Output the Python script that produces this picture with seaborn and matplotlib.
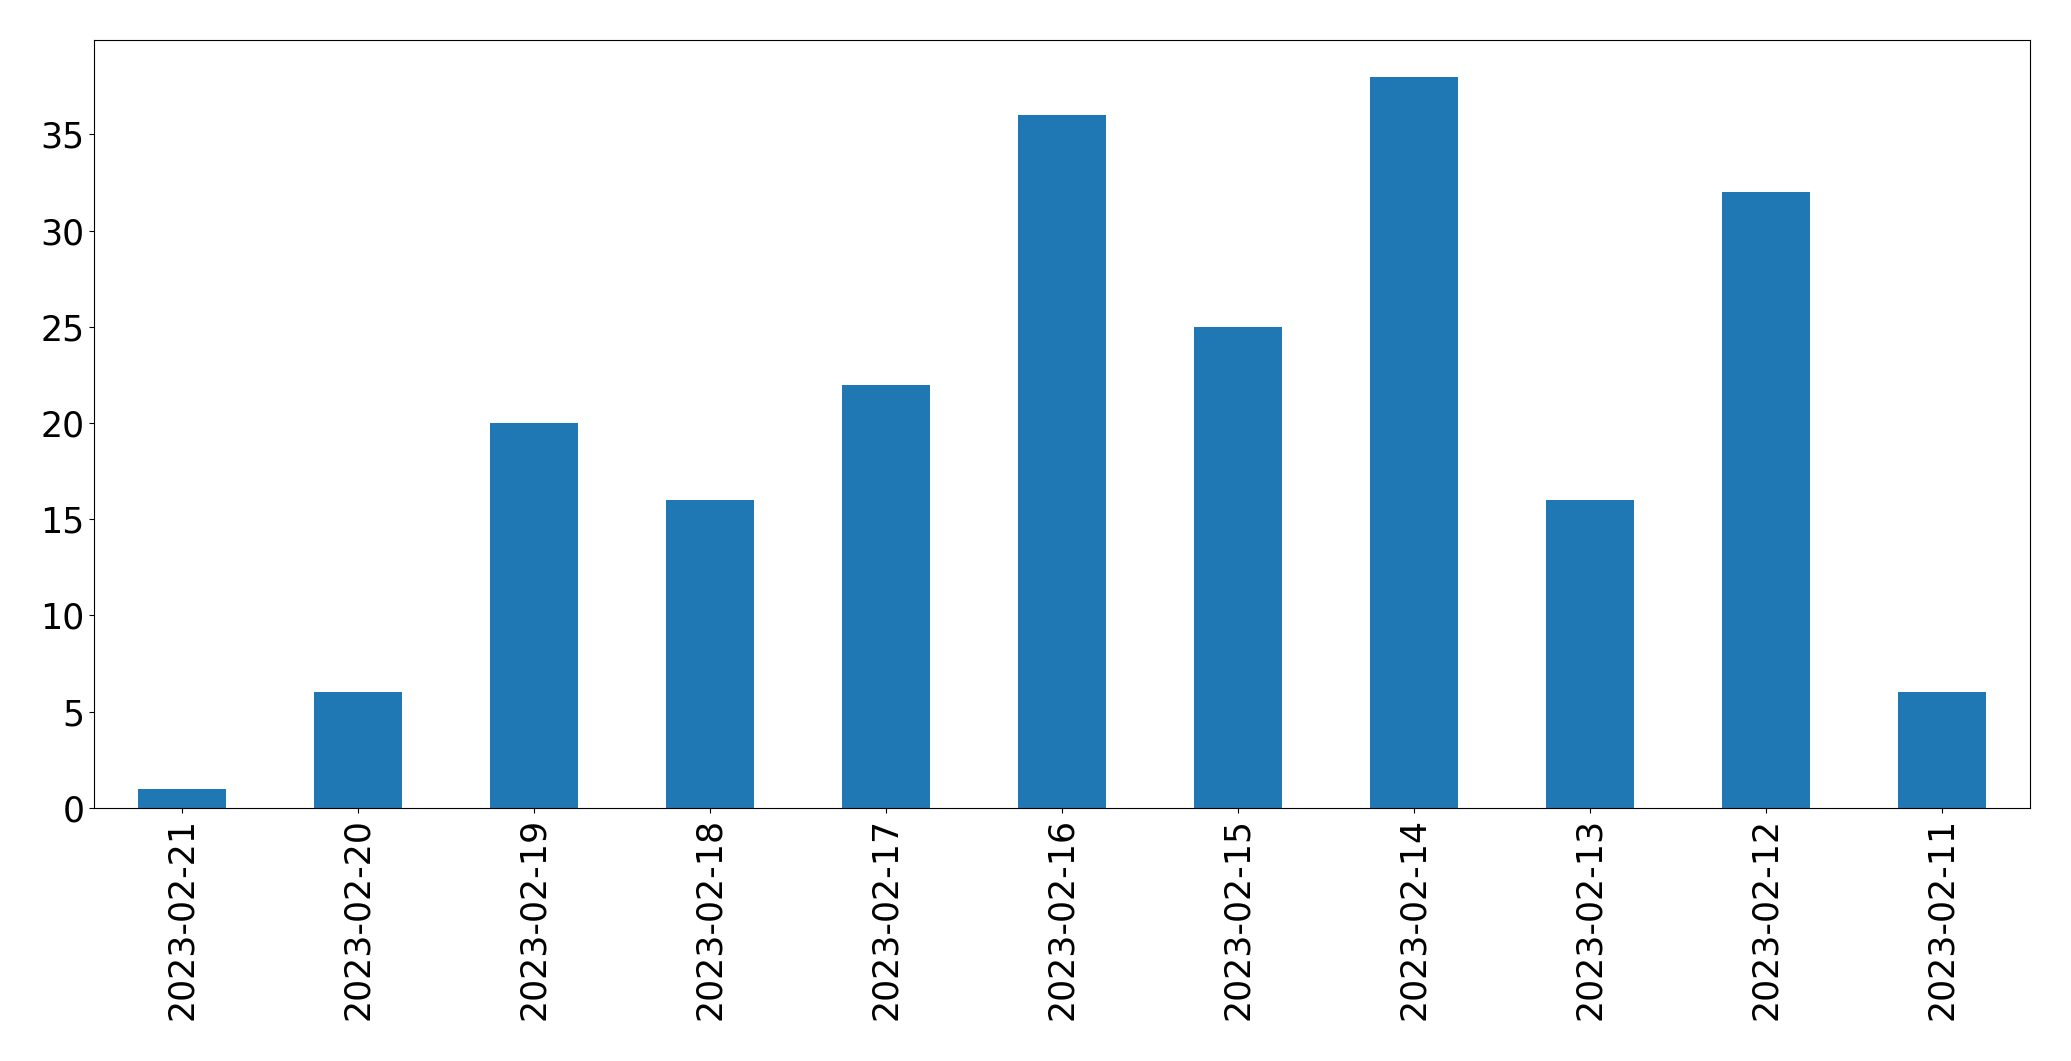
import matplotlib
matplotlib.use("Agg")
import matplotlib.pyplot as plt
import seaborn as sns
import pandas as pd

dates = ["2023-02-21", "2023-02-20", "2023-02-19", "2023-02-18", "2023-02-17",
         "2023-02-16", "2023-02-15", "2023-02-14", "2023-02-13", "2023-02-12",
         "2023-02-11"]
counts = [1, 6, 20, 16, 22, 36, 25, 38, 16, 32, 6]

df = pd.DataFrame({"date": dates, "count": counts})

fig = plt.figure(figsize=(20.71, 10.61), dpi=100)
ax = fig.add_axes([0.0454, 0.2385, 0.9350, 0.7238])
sns.barplot(data=df, x="date", y="count", order=dates, color="#1f77b4",
            saturation=1, width=0.5, errorbar=None, ax=ax)
ax.set_xlim(-0.5, len(dates) - 0.5)
ax.set_ylim(0, 39.9)
ax.set_xlabel("")
ax.set_ylabel("")
ax.tick_params(axis="both", labelsize=25)
plt.setp(ax.get_xticklabels(), rotation=90)
fig.savefig("out.png", dpi=100)
